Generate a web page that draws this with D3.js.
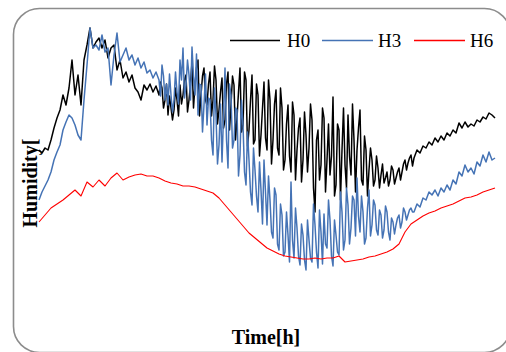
<!DOCTYPE html>
<html>
<head>
<meta charset="utf-8">
<script src="https://cdn.jsdelivr.net/npm/d3@7"></script>
<style>
html,body{margin:0;padding:0;background:#fff;}
svg{display:block;}
text{font-family:"Liberation Serif","Times New Roman",serif;fill:#000;}
</style>
</head>
<body>
<svg id="chart" width="506" height="352"></svg>
<script>
// Series names and colours
const seriesNames = ["H0", "H3", "H6"];
const seriesColors = ["#000000", "#4573b5", "#ff0000"];

// Time steps: whole steps at the ends, half steps in the noisy middle part
const timeFine = d3.range(0, 40).concat(d3.range(40, 125, 0.5), d3.range(125, 153));
const timeH6 = d3.range(0, 153, 2);

// Humidity readings
const H0 = [
  67.5,66.75,68,67.5,70,73,75.5,77.5,81.25,78.75,
  83,90,81.25,86.25,78.75,90,93.75,98,93,94.5,
  95.5,93,95,90.5,93,93.75,87.5,90,85.5,87,
  84.5,86.25,83,82,80,83.75,82.5,84,82,83.5,
  81.25,84.5, 83,78, 80,84, 76.25,81, 78,75, 77.5,83, 80,76, 83.75,79, 81.25,85, 86.25,77,
  80,84, 89.5,78, 83.75,88, 90,76, 81.25,86, 88,80, 78.75,84, 87,76, 80,88.5, 85,74,
  77.5,82, 85.5,73, 75,84, 87,72.5, 78.75,86, 83.75,70, 75.5,82, 88,72, 73.75,87, 85,68.5,
  72.5,80, 86.25,69, 70,84, 81.25,66, 71.25,78, 84.5,70.5, 67.5,85, 80,64, 70,79, 82.5,68,
  66.25,83, 78,62.5, 65,74, 78.75,66, 62,79.5, 76.25,60, 67.5,73, 75.5,59.5, 65,77, 71.25,62,
  68,79, 75,58, 52,70, 72.5,60, 63.75,78, 75.5,57, 65,74, 61.25,66, 80.75,56, 58.75,74,
  72.5,55, 67.5,78, 63.75,58, 76.25,66, 61.25,79, 70,57, 67.5,73, 77.5,60, 58.75,71, 67.5,56,
  62.5,68, 65,58.5, 60,66, 63,58, 61.25,64, 59.25,60.5, 62,58.5, 60,63.5, 62.5,59, 60.5,62,
  63,60, 62,64, 65,62.5, 64.25,65.5, 66.25,63.5,
  65.5,67.5,66.75,68.5,68,
  69.5,68.75,70.5,69.5,71,70,71.75,71,72.5,71.75,
  74.25,73,74.5,73.25,74,73.5,75,74.5,75.75,75.25,
  76.75,76.25,75.5
];
const H3 = [
  55,57,58.5,60,62,65,67,68.75,72.5,74.5,
  76.25,75.5,73.75,71.25,70,80,88.75,98,93,93.75,
  92.5,96.25,92,93,83.75,91.25,96.75,89.5,91.25,93,
  90,91.25,88.75,90.5,88,89.5,86.75,87.5,85.5,87,
  85,81, 88.75,86, 80,84, 78.75,86.5, 81.25,77, 80,87, 82,79, 90,85, 93,80.5, 83.75,90,
  86.25,80, 93.25,86, 81.25,91.5, 76.25,84, 83.75,72, 78.75,86.5, 73.75,80.5, 80,70, 66.25,83, 76.25,64,
  68.75,79, 64.5,76, 88,70, 63,84, 81.25,68, 70,78, 77.5,61, 66.25,80, 73.75,62, 58.75,72,
  65,57, 53.75,68, 62.5,56, 52,64.5, 57.5,49, 65,57, 48.75,61, 55,47, 45.5,58, 56.25,44,
  42.5,54, 51.25,41, 42,52, 46.25,39.5, 59.5,45, 40.5,53, 48,41, 38.75,49, 46.25,40, 37.5,50,
  45,40.5, 39.5,54, 48.75,42, 38,52.5, 47,39, 51.5,44, 43,55, 50,41, 38.5,50, 46.25,42,
  41.25,57, 52,42.5, 45,58, 53.75,44, 48,56, 55,46, 60.5,51, 47,56, 52,44, 45.5,53,
  57.5,46, 48.75,55, 53.75,47.5, 46.25,52.5, 51.25,45.5, 47.5,53.5, 52,47, 45,50.5, 49.5,46.5, 48.75,50.5,
  51.25,48, 49.5,53, 52,50, 51.25,52.5, 53,52,
  52,54,53.25,55.5,55,
  57,56.25,57.5,56,58,57,58.75,57.5,60,59,
  62,61,63.75,62,63,61.5,64.5,63.5,66.25,64.5,
  67,65,65.5
];
const H6 = [
  49.5,51.25,53,54,55,56.25,57.5,56,59.5,58.25,
  60,58.5,60.5,61.75,60,60.75,61.25,61.5,61,61,
  60.5,59.75,59.25,59,58.5,58.5,58.25,57.75,57.25,56.75,
  55.5,53.75,52,50.25,48.5,46.75,45.5,44.25,43,42.25,
  41.5,41,40.75,40.5,40.25,40.25,40.5,40.25,40.5,40.5,
  41,39.5,39.75,40,40.25,40.75,41,41.5,42,42.75,
  44,47,49,50,51,51.75,52.25,53,53.5,54,
  54.75,55.5,55.75,56.25,57,57.5,58
];

const seriesValues = [H0, H3, H6];
const seriesTimes = [timeFine, timeFine, timeH6];

const svg = d3.select("#chart");

// Frame (rounded border)
svg.append("rect")
  .attr("x", 13.5).attr("y", 8.5)
  .attr("width", 497).attr("height", 344)
  .attr("rx", 26).attr("ry", 26)
  .attr("fill", "#fff")
  .attr("stroke", "#8c8c8c")
  .attr("stroke-width", 1.6);

const x = d3.scaleLinear().domain([0, 152]).range([39, 495]);
const y = d3.scaleLinear().domain([20, 100]).range([340, 20]);

const line = d3.line()
  .x(d => x(d[0]))
  .y(d => y(d[1]));

const widths = [1.5, 1.5, 1.1];
seriesValues.forEach((vals, k) => {
  const pts = vals.map((v, i) => [seriesTimes[k][i], v]);
  svg.append("path")
    .datum(pts)
    .attr("fill", "none")
    .attr("stroke", seriesColors[k])
    .attr("stroke-width", widths[k])
    .attr("stroke-linejoin", "round")
    .attr("d", line);
});

// Legend
const legendLines = [[230, 280], [322, 373], [414, 465]];
const legendText = [287, 378, 470];
seriesNames.forEach((name, k) => {
  svg.append("line")
    .attr("x1", legendLines[k][0]).attr("x2", legendLines[k][1])
    .attr("y1", 40.5).attr("y2", 40.5)
    .attr("stroke", seriesColors[k])
    .attr("stroke-width", 1.3);
  svg.append("text")
    .attr("x", legendText[k]).attr("y", 47)
    .attr("font-size", 19)
    .text(name);
});

// Axis titles
svg.append("text")
  .attr("transform", "translate(37,183) rotate(-90)")
  .attr("text-anchor", "middle")
  .attr("font-size", 20)
  .attr("font-weight", "bold")
  .text("Humidity[");

svg.append("text")
  .attr("x", 266).attr("y", 344)
  .attr("text-anchor", "middle")
  .attr("font-size", 20)
  .attr("font-weight", "bold")
  .text("Time[h]");
</script>
</body>
</html>
